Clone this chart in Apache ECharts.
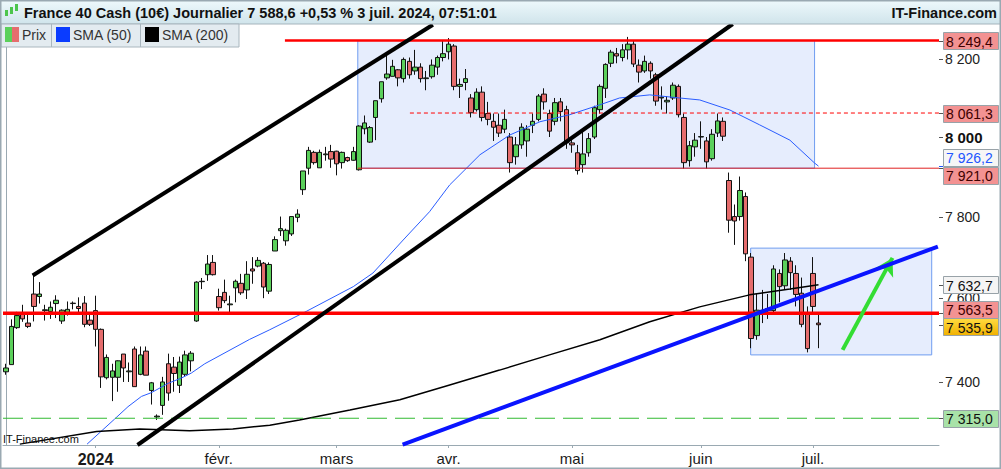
<!DOCTYPE html>
<html><head><meta charset="utf-8">
<script src="https://cdn.jsdelivr.net/npm/echarts@6/dist/echarts.min.js"></script>
<style>html,body{margin:0;padding:0;background:#fff}#c{width:1001px;height:469px}</style>
</head><body><div id="c"></div>
<script>
// ---------- DATA ----------
const dates = [
'2023-12-06','2023-12-07','2023-12-08','2023-12-11','2023-12-12','2023-12-13','2023-12-14','2023-12-15','2023-12-18','2023-12-19','2023-12-20','2023-12-21','2023-12-22','2023-12-27','2023-12-28','2023-12-29',
'2024-01-02','2024-01-03','2024-01-04','2024-01-05','2024-01-08','2024-01-09','2024-01-10','2024-01-11','2024-01-12','2024-01-15','2024-01-16','2024-01-17','2024-01-18','2024-01-19','2024-01-22','2024-01-23','2024-01-24','2024-01-25','2024-01-26','2024-01-29','2024-01-30','2024-01-31',
'2024-02-01','2024-02-02','2024-02-05','2024-02-06','2024-02-07','2024-02-08','2024-02-09','2024-02-12','2024-02-13','2024-02-14','2024-02-15','2024-02-16','2024-02-19','2024-02-20','2024-02-21','2024-02-22','2024-02-23','2024-02-26','2024-02-27','2024-02-28','2024-02-29',
'2024-03-01','2024-03-04','2024-03-05','2024-03-06','2024-03-07','2024-03-08','2024-03-11','2024-03-12','2024-03-13','2024-03-14','2024-03-15','2024-03-18','2024-03-19','2024-03-20','2024-03-21','2024-03-22','2024-03-25','2024-03-26','2024-03-27','2024-03-28',
'2024-04-01','2024-04-02','2024-04-03','2024-04-04','2024-04-05','2024-04-08','2024-04-09','2024-04-10','2024-04-11','2024-04-12','2024-04-15','2024-04-16','2024-04-17','2024-04-18','2024-04-19','2024-04-22','2024-04-23','2024-04-24','2024-04-25','2024-04-26','2024-04-29','2024-04-30',
'2024-05-01','2024-05-02','2024-05-03','2024-05-06','2024-05-07','2024-05-08','2024-05-09','2024-05-10','2024-05-13','2024-05-14','2024-05-15','2024-05-16','2024-05-17','2024-05-20','2024-05-21','2024-05-22','2024-05-23','2024-05-24','2024-05-27','2024-05-28','2024-05-29','2024-05-30','2024-05-31',
'2024-06-03','2024-06-04','2024-06-05','2024-06-06','2024-06-07','2024-06-10','2024-06-11','2024-06-12','2024-06-13','2024-06-14','2024-06-17','2024-06-18','2024-06-19','2024-06-20','2024-06-21','2024-06-24','2024-06-25','2024-06-26','2024-06-27','2024-06-28',
'2024-07-01','2024-07-02'];
const futureDates = ['2024-07-03','2024-07-04','2024-07-05','2024-07-08','2024-07-09','2024-07-10','2024-07-11','2024-07-12','2024-07-15','2024-07-16','2024-07-17','2024-07-18','2024-07-19','2024-07-22','2024-07-23','2024-07-24','2024-07-25','2024-07-26','2024-07-29','2024-07-30','2024-07-31'];
// [open, close, low, high]
const ohlc = [
[7424,7433,7417,7443],[7441,7532,7441,7549],[7529,7558,7526,7567],[7563,7550,7543,7584],[7540,7532,7528,7566],[7610,7580,7544,7655],[7604,7610,7587,7639],[7570,7572,7546,7584],[7568,7578,7550,7592],[7587,7595,7552,7607],[7545,7571,7538,7573],[7564,7573,7558,7592],[7587,7588,7573,7592],[7580,7575,7560,7602],[7588,7537,7530,7605],[7547,7537,7533,7560],
[7570,7525,7484,7606],[7525,7412,7386,7527],[7410,7458,7406,7465],[7411,7426,7355,7443],[7411,7450,7377,7451],[7466,7433,7400,7466],[7424,7426,7400,7446],[7478,7389,7389,7484],[7418,7464,7416,7484],[7473,7416,7416,7484],[7380,7398,7347,7400],[7318,7320,7311,7324],[7345,7400,7323,7412],[7443,7374,7356,7467],[7435,7420,7377,7459],[7392,7447,7374,7460],[7418,7464,7413,7474],[7450,7468,7425,7473],[7545,7639,7543,7641],[7640,7641,7622,7649],[7657,7683,7642,7705],[7687,7657,7655,7705],
[7604,7577,7570,7623],[7614,7594,7588,7645],[7584,7586,7560,7606],[7625,7641,7590,7645],[7636,7613,7608,7659],[7620,7658,7598,7690],[7671,7666,7635,7700],[7678,7692,7675,7700],[7685,7627,7600,7688],[7617,7682,7610,7687],[7715,7743,7715,7751],[7765,7770,7752,7800],[7740,7766,7728,7770],[7757,7800,7752,7800],[7798,7806,7786,7818],[7867,7914,7854,7914],[7921,7966,7905,7975],[7961,7935,7930,7965],[7922,7961,7922,7968],[7955,7957,7940,7975],[7963,7944,7922,7980],
[7964,7932,7903,7965],[7935,7961,7920,7963],[7948,7940,7937,7950],[7941,7963,7940,7975],[7917,8028,7915,8030],[8021,8036,8007,8055],[7987,8024,7985,8028],[8050,8093,7992,8093],[8098,8142,8088,8142],[8152,8162,8147,8212],[8156,8182,8156,8199],[8173,8152,8130,8175],[8150,8200,8140,8205],[8195,8160,8150,8205],[8170,8180,8160,8225],[8180,8150,8140,8190],[8150,8152,8120,8170],[8155,8185,8150,8200],[8180,8205,8160,8210],[8205,8215,8195,8250],
[8220,8240,8200,8256],[8235,8130,8120,8240],[8130,8135,8100,8150],[8140,8150,8120,8175],[8100,8062,8050,8110],[8070,8115,8065,8125],[8115,8050,8040,8130],[8060,8045,8030,8090],[8040,8025,7990,8060],[8030,8010,8000,8060],[8020,8045,8010,8070],[8000,7935,7910,8010],[7950,7980,7930,8000],[7980,8025,7970,8035],[7990,8020,7950,8030],[8030,8040,8010,8060],[8045,8105,8040,8110],[8110,8090,8070,8125],[8060,8015,8000,8070],[8040,8088,8030,8100],[8090,8065,8040,8100],[8070,7985,7970,8080],
[7985,7980,7960,8000],[7960,7915,7905,7980],[7930,7957,7910,8020],[7960,7996,7950,8010],[8000,8075,7995,8080],[8070,8130,8060,8135],[8125,8187,8100,8190],[8190,8219,8180,8225],[8215,8209,8190,8230],[8205,8225,8195,8240],[8225,8240,8200,8259],[8240,8188,8180,8250],[8185,8167,8140,8200],[8170,8195,8165,8210],[8190,8170,8150,8195],[8160,8092,8080,8165],[8100,8102,8070,8130],[8090,8094,8060,8105],[8100,8133,8095,8140],[8130,8057,8050,8135],[8050,7935,7920,8060],[7940,7978,7925,7990],[7975,7992,7950,8010],
[8000,8001,7970,8040],[7990,7937,7920,8000],[7945,8007,7940,8020],[8010,8041,8000,8060],[8040,8002,7990,8050],[7890,7791,7760,7910],[7800,7789,7730,7830],[7800,7865,7790,7900],[7850,7708,7690,7860],[7700,7503,7480,7710],[7510,7571,7500,7610],[7570,7571,7540,7620],[7575,7570,7550,7610],[7570,7671,7560,7680],[7660,7628,7590,7670],[7630,7693,7620,7710],[7690,7662,7620,7700],[7660,7609,7580,7680],[7612,7537,7530,7650],[7563,7479,7470,7580],
[7660,7580,7560,7700],[7540,7536,7480,7560]];
// moving averages: [slot index, value]
const sma50 = [[14.5,7255],[19.4,7313],[21.8,7342],[24.2,7366],[26.0,7375],[29.0,7397],[31.3,7409],[33.1,7421],[35.5,7443],[43.5,7501],[47.1,7524],[53.6,7568],[62.0,7628],[65.5,7661],[70.9,7742],[75.6,7812],[79.2,7879],[84.6,7955],[89.9,8005],[95.3,8039],[100.6,8057],[105.9,8082],[109.5,8100],[114.9,8108],[120.2,8100],[123.8,8095],[129.2,8069],[134.5,8031],[139.9,7992],[144.3,7934],[145,7926.2]];
const sma200 = [[2.5,7255],[16.2,7284],[23.9,7290],[32.8,7286],[40.5,7290],[47.1,7299],[52.4,7311],[61.4,7334],[70.3,7358],[79.2,7393],[88.1,7428],[97.0,7464],[106.0,7500],[114.9,7543],[123.8,7579],[132.7,7608],[139.9,7622],[145,7632.7]];
// drawn levels and figures: [slot index, price]
const levelValues = [8249.4, 8061.3, 7921.0, 7563.5, 7315.0];
const levelStarts = [49.8, 72.1, 62.8, -0.5, -0.5];
const trendA = [[4.8,7655],[76.2,8291]];
const trendB = [[23.5,7253],[129.7,8293]];
const trendBlue = [[70.8,7254],[166.3,7726]];
const arrowPts = [[149.3,7476],[158.2,7698]];
const zone1 = [[62.8,8249.4],[144.3,7921.0]];
const zone2 = [[132.9,7722],[165.2,7464]];
const yTicks = [7400, 7600, 7800, 8000, 8200];
const boxValues = [8249.4, 8061.3, 7926.2, 7921.0, 7632.7, 7563.5, 7535.9, 7315.0];
const boxKinds = ['red','red','blue','red','white','red','gold','green'];
const yMin = 7253, yMax = 8293;
const monthNames = ['2024','févr.','mars','avr.','mai','juin','juil.','août','sept.','oct.','nov.','déc.'];

// ---------- CHART ----------
const allDates = dates.concat(futureDates);
const N = allDates.length;
const FONT = '"Liberation Sans", Arial, sans-serif';
function isMonthStart(i){ return i>0 && i<=dates.length && allDates[i].slice(5,7)!==allDates[i-1].slice(5,7); }
function frNum(v, d){ const s=v.toFixed(d); const p=s.split('.'); const i=p[0].replace(/\B(?=(\d{3})+(?!\d))/g,' '); return p[1]!==undefined? i+','+p[1] : i; }

const chart = echarts.init(document.getElementById('c'), null, {renderer:'svg', width:1001, height:469});

function lineSeries(pts, color, width, type, z){
  return {type:'line', xAxisIndex:1, yAxisIndex:0, data:pts, showSymbol:false, symbol:'none', silent:true, z:z||4,
    lineStyle:{color:color, width:width, type:type||'solid'}, clip:true, animation:false};
}
const levelStyles = [
  {color:'#ff0000', width:2.5, type:'solid'},
  {color:'#ff0000', width:1, type:[4,3]},
  {color:'#e02020', width:1, type:'solid'},
  {color:'#ff0000', width:3.5, type:'solid'},
  {color:'#33bb33', width:1.2, type:[20,8]}
];
const series = [
  {type:'line', xAxisIndex:1, yAxisIndex:0, data:[], silent:true,
   markArea:{silent:true, itemStyle:{color:'rgba(196,212,250,0.42)', borderColor:'#6f9cf0', borderWidth:1},
     data:[[{coord:zone1[0]},{coord:zone1[1]}],[{coord:zone2[0]},{coord:zone2[1]}]]}},
  {type:'candlestick', xAxisIndex:0, yAxisIndex:0, data:ohlc, barWidth:5, z:2, silent:true,
   itemStyle:{color:'#5bd05b', color0:'#e56d6d', borderColor:'#111', borderColor0:'#111', borderWidth:1}},
  lineSeries(sma50, '#2a5cff', 1, 'solid', 3),
  lineSeries(sma200, '#000000', 1.5, 'solid', 3)
];
levelValues.forEach((v,k)=>{ const st=levelStyles[k]; series.push(lineSeries([[levelStarts[k],v],[N-0.5,v]], st.color, st.width, st.type, 4)); });
series.push(lineSeries(trendA, '#000', 4, 'solid', 5));
series.push(lineSeries(trendB, '#000', 4, 'solid', 5));
series.push(lineSeries(trendBlue, '#0a14ff', 4, 'solid', 5));
series.push({type:'line', xAxisIndex:1, yAxisIndex:0, data:[], silent:true,
  markLine:{silent:true, symbol:['none','arrow'], symbolSize:[15,17], label:{show:false},
    lineStyle:{color:'#33dd33', width:4, type:'solid'},
    data:[[{coord:arrowPts[0]},{coord:arrowPts[1]}]]}});

const headerGrad = new echarts.graphic.LinearGradient(0,0,0,1,[{offset:0,color:'#eef9fc'},{offset:1,color:'#d0e4eb'}]);
const staticGraphics = [
  {id:'hdr', type:'rect', shape:{x:0,y:0,width:1001,height:24}, style:{fill:headerGrad, stroke:'#a5b4bc', lineWidth:1}, z:50},
  {id:'ic1', type:'rect', shape:{x:5,y:10,width:3,height:6}, style:{fill:'#4cc54c'}, z:51},
  {id:'ic2', type:'rect', shape:{x:10,y:7,width:3,height:7}, style:{fill:'#4cc54c'}, z:51},
  {id:'ic3', type:'rect', shape:{x:15,y:4,width:3,height:7}, style:{fill:'#4cc54c'}, z:51},
  {id:'ttl', type:'text', x:24, y:13, style:{text:'France 40 Cash (10€) Journalier 7 588,6 +0,53 % 3 juil. 2024, 07:51:01', fill:'#111', fontFamily:FONT, fontWeight:'bold', fontSize:14.5, verticalAlign:'middle'}, z:51},
  {id:'brand', type:'text', x:997, y:13, style:{text:'IT-Finance.com', fill:'#111', fontFamily:FONT, fontWeight:'bold', fontSize:14.5, verticalAlign:'middle', align:'right'}, z:51},
  {id:'lg0', type:'rect', shape:{x:1,y:24,width:238,height:23}, style:{fill:'#e3ebf0', stroke:'#a9b6be', lineWidth:1}, z:50},
  {id:'lgd1', type:'line', shape:{x1:51.5,y1:24,x2:51.5,y2:47}, style:{stroke:'#a9b6be'}, z:51},
  {id:'lgd2', type:'line', shape:{x1:140.5,y1:24,x2:140.5,y2:47}, style:{stroke:'#a9b6be'}, z:51},
  {id:'sw1a', type:'rect', shape:{x:5,y:27,width:7,height:15}, style:{fill:'#5bd05b'}, z:51},
  {id:'sw1b', type:'rect', shape:{x:12,y:27,width:7,height:15}, style:{fill:'#e56d6d'}, z:51},
  {id:'sw2', type:'rect', shape:{x:56,y:27,width:14,height:15}, style:{fill:'#0a3cff'}, z:51},
  {id:'sw3', type:'rect', shape:{x:145,y:27,width:14,height:15}, style:{fill:'#000'}, z:51},
  {id:'lt1', type:'text', x:22, y:35, style:{text:'Prix', fill:'#333', fontFamily:FONT, fontSize:14, verticalAlign:'middle'}, z:51},
  {id:'lt2', type:'text', x:73, y:35, style:{text:'SMA (50)', fill:'#333', fontFamily:FONT, fontSize:14, verticalAlign:'middle'}, z:51},
  {id:'lt3', type:'text', x:162, y:35, style:{text:'SMA (200)', fill:'#333', fontFamily:FONT, fontSize:14, verticalAlign:'middle'}, z:51},
  {id:'wm', type:'text', x:3, y:439, style:{text:'IT-Finance.com', fill:'#111', fontFamily:FONT, fontSize:11, verticalAlign:'middle'}, z:51},
  {id:'frame', type:'rect', shape:{x:0.5,y:0.5,width:1000,height:468}, style:{fill:'none', stroke:'#9aa9b2', lineWidth:2}, z:60}
];

const option = {
  animation:false,
  backgroundColor:'#fff',
  textStyle:{fontFamily:FONT},
  grid:{left:3, right:62, top:24, bottom:24, show:false},
  xAxis:[
    {type:'category', data:allDates, boundaryGap:true,
     axisLine:{show:true, lineStyle:{color:'#9aa9b2', width:1}},
     axisTick:{show:true, alignWithLabel:true, interval:isMonthStart, length:3, lineStyle:{color:'#9aa9b2'}},
     axisLabel:{interval:isMonthStart, fontSize:15, color:'#1a1a1a', margin:6,
       formatter:(v)=>{ const m=+v.slice(5,7); return m===1 ? '{y|'+v.slice(0,4)+'}' : monthNames[m-1]; },
       rich:{y:{fontSize:16, fontWeight:'bold', color:'#1a1a1a'}}},
     splitLine:{show:false}},
    {type:'value', min:-0.5, max:N-0.5, show:false}
  ],
  yAxis:[
    {type:'log', logBase:10, position:'right', min:yMin, max:yMax, scale:true,
     axisLine:{show:true, lineStyle:{color:'#9aa9b2'}},
     axisTick:{show:false},
     minorTick:{show:false}, minorSplitLine:{show:false},
     axisLabel:{show:true, customValues:yTicks, fontSize:14, color:'#222', margin:6,
       formatter:(v)=>{ const s=frNum(Math.round(v),0); return Math.round(v)===8000 ? '{b|'+s+'}' : s; },
       rich:{b:{fontWeight:'bold', fontSize:15, color:'#111'}}},
     splitLine:{show:false}, splitArea:{show:false}}
  ],
  graphic: staticGraphics,
  series: series
};
chart.setOption(option);

// price boxes and ticks on the right scale, positioned through the chart's own y scale
const boxShift = [0, 0, -9, 7, 0, -4, 2, 0];
const goldGrad = new echarts.graphic.LinearGradient(0,0,0,1,[{offset:0,color:'#ffdc40'},{offset:1,color:'#f0b000'}]);
const kindStyle = {
  red:{fill:'#f39292', text:'#3d0000', tick:'#555'},
  blue:{fill:'#f6f6f6', text:'#2255ff', tick:'#2255ff'},
  white:{fill:'#f4f4f4', text:'#111', tick:'#555'},
  gold:{fill:goldGrad, text:'#111', tick:'#555'},
  green:{fill:'#a8e2a8', text:'#111', tick:'#555'}
};
const extra = [];
yTicks.forEach((v,k)=>{
  const py = Math.round(chart.convertToPixel({yAxisIndex:0}, v))+0.5;
  extra.push({id:'tk'+k, type:'line', shape:{x1:939, y1:py, x2:943, y2:py}, style:{stroke:'#555'}, z:52});
});
boxValues.forEach((v,k)=>{
  const y0 = chart.convertToPixel({yAxisIndex:0}, v);
  const py = y0 + boxShift[k];
  const ks = kindStyle[boxKinds[k]];
  extra.push({id:'bx'+k, type:'rect', shape:{x:943.5, y:Math.round(py-8.5)+0.5, width:55, height:17}, style:{fill:ks.fill, stroke:'#98a2a8', lineWidth:1}, z:55});
  extra.push({id:'bt'+k, type:'text', x:946, y:Math.round(py)+0.5, style:{text:frNum(v,1), fill:ks.text, fontFamily:FONT, fontSize:14, verticalAlign:'middle'}, z:56});
  extra.push({id:'bk'+k, type:'line', shape:{x1:939, y1:Math.round(y0)+0.5, x2:943, y2:Math.round(y0)+0.5}, style:{stroke:ks.tick}, z:55});
});
chart.setOption({graphic: staticGraphics.concat(extra)});
</script></body></html>
